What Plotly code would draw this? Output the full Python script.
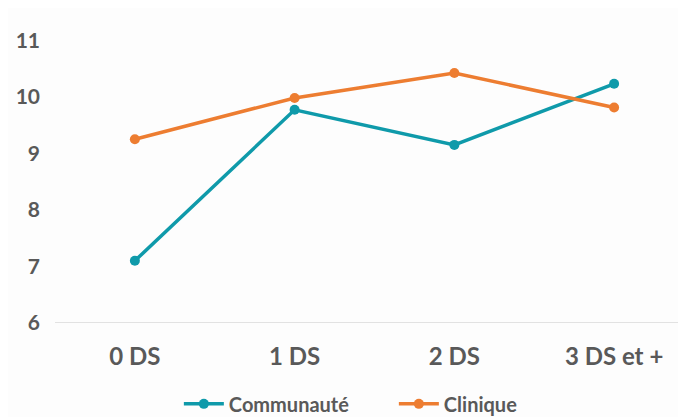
import plotly.graph_objects as go

categories = ["0 DS", "1 DS", "2 DS", "3 DS et +"]
communaute = [7.10, 9.77, 9.15, 10.23]
clinique = [9.25, 9.98, 10.42, 9.81]
y_ticks = [6, 7, 8, 9, 10, 11]

TEAL = "#0F9AAA"
ORANGE = "#ED7D31"
TXT = "#595959"
FONT = "Lato"

fig = go.Figure()
fig.add_trace(go.Scatter(x=categories, y=communaute, name="Communauté", mode="lines+markers",
                         line=dict(color=TEAL, width=3.5), marker=dict(size=10, color=TEAL)))
fig.add_trace(go.Scatter(x=categories, y=clinique, name="Clinique", mode="lines+markers",
                         line=dict(color=ORANGE, width=3.5), marker=dict(size=10, color=ORANGE)))

fig.update_layout(
    width=678, height=409,
    margin=dict(l=47, r=0, t=4, b=94, autoexpand=False),
    paper_bgcolor="#FDFDFD", plot_bgcolor="#FDFDFD",
    font=dict(family=FONT, color=TXT, size=19),
    showlegend=True,
    legend=dict(orientation="h", xref="container", x=0.252, xanchor="left",
                yref="paper", y=-0.26, yanchor="middle",
                font=dict(family=FONT, size=20, color=TXT, weight="bold"),
                itemwidth=40, entrywidth=160, entrywidthmode="pixels", tracegroupgap=0),
    xaxis=dict(type="category", range=[-0.5, 3.45], showgrid=False, zeroline=False,
               showline=False, ticks="", ticklabelstandoff=17, automargin=False,
               tickfont=dict(family=FONT, size=24, color=TXT, weight="bold")),
    yaxis=dict(range=[6, 11.5], tickvals=y_ticks, showgrid=False, zeroline=False,
               showline=False, ticks="", ticklabelstandoff=14, automargin=False,
               tickfont=dict(family=FONT, size=21, color=TXT, weight="bold")),
    shapes=[dict(type="line", xref="paper", yref="y", x0=0, x1=1, y0=6, y1=6,
                 line=dict(color="#D9D9D9", width=1.5), layer="below")],
)

fig.write_html("out.html")
